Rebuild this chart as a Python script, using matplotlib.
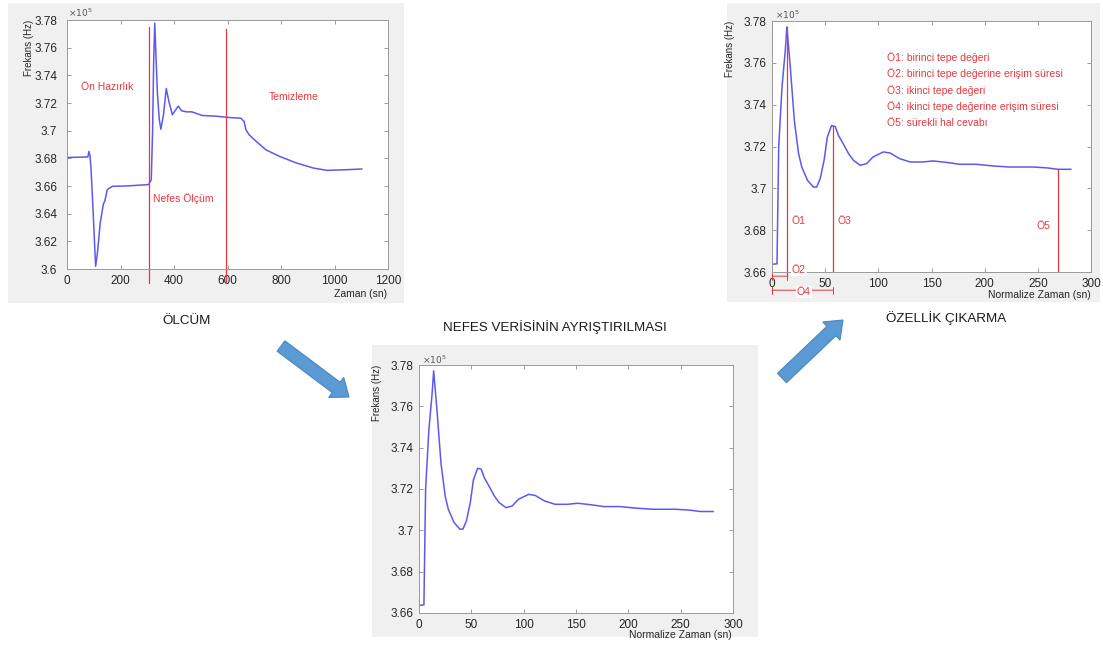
import matplotlib
matplotlib.use('Agg')
import matplotlib.pyplot as plt
from matplotlib.patches import Rectangle, FancyArrow
from matplotlib.transforms import IdentityTransform
from matplotlib.ticker import FixedLocator, FuncFormatter

plt.rcParams['font.family'] = ['Liberation Sans', 'DejaVu Sans']

# frekans degerleri x 1e5 Hz
# olcum (tum kayit)
t_olcum = [0, 40, 78, 82, 86, 90, 98, 107, 114, 124, 136, 141, 151, 170, 220, 305,
           315, 320, 324, 328, 333, 338, 345, 351, 361, 371, 381, 394, 406, 416, 429,
           448, 467, 505, 555, 606, 650, 662, 669, 681, 707, 744, 795, 858, 921, 972,
           1047, 1102]
f_olcum = [3.6806, 3.6808, 3.681, 3.685, 3.682, 3.672, 3.640, 3.602, 3.612, 3.633, 3.647,
           3.649, 3.6575, 3.6598, 3.660, 3.661, 3.6645, 3.700, 3.750, 3.7777, 3.752, 3.727,
           3.708, 3.701, 3.712, 3.7305, 3.721, 3.7115, 3.715, 3.7177, 3.7143, 3.7136,
           3.7136, 3.711, 3.7105, 3.7095, 3.709, 3.7067, 3.7006, 3.697, 3.6923, 3.6861,
           3.6814, 3.6766, 3.673, 3.6713, 3.6718, 3.6723]

# ayristirilmis nefes verisi (normalize zaman)
t_norm = [0, 4.7, 6.3, 9.4, 12.5, 14, 17.2, 21, 25, 28, 33.4, 39, 42, 45.3, 49, 52, 56,
          59.4, 62.5, 67, 72, 76.6, 83, 89, 95, 104.7, 111, 120, 130, 142, 151.5, 164,
          176.6, 192, 208, 223, 245, 258, 269, 281]
f_norm = [3.6637, 3.6639, 3.7198, 3.7484, 3.766, 3.7772, 3.758, 3.7325, 3.7166, 3.7102,
          3.7038, 3.7006, 3.7006, 3.7046, 3.7134, 3.7245, 3.730, 3.7296, 3.7253, 3.7213,
          3.7166, 3.7134, 3.711, 3.7118, 3.715, 3.7174, 3.7169, 3.7142, 3.7126, 3.7126,
          3.7131, 3.7124, 3.7115, 3.7115, 3.7107, 3.7102, 3.7102, 3.7098, 3.7091, 3.7091]

faz_sinir = [305, 594]
faz_ust = [3.7752, 3.7735]
faz_etiket = ['Ön Hazırlık', 'Nefes Ölçüm', 'Temizleme']
faz_etiket_x = [51, 320, 756]
faz_etiket_y = [3.7313, 3.6511, 3.7241]

ozellik_metin = ['Ö1: birinci tepe değeri', 'Ö2: birinci tepe değerine erişim süresi',
                 'Ö3: ikinci tepe değeri', 'Ö4: ikinci tepe değerine erişim süresi',
                 'Ö5: sürekli hal cevabı']
ozellik_y = [3.7625, 3.7547, 3.7469, 3.7391, 3.7313]
tepe1 = (14, 3.7772)
tepe2 = (57.8, 3.730)
kararli = (269, 3.7091)

y_tick_olcum = [3.6, 3.62, 3.64, 3.66, 3.68, 3.7, 3.72, 3.74, 3.76, 3.78]
x_tick_olcum = [0, 200, 400, 600, 800, 1000, 1200]
y_tick_norm = [3.66, 3.68, 3.7, 3.72, 3.74, 3.76, 3.78]
x_tick_norm = [0, 50, 100, 150, 200, 250, 300]

W, H = 1103, 646
BLUE = '#5a5af0'
RED = '#e8363f'
TXT = '#262626'

fig = plt.figure(figsize=(W / 100, H / 100), dpi=100)
fig.patch.set_facecolor('white')


def panel_bg(l, t, r, b):
    fig.patches.append(Rectangle((l / W, 1 - b / H), (r - l) / W, (b - t) / H,
                                 transform=fig.transFigure, facecolor='#f0f0f0',
                                 edgecolor='none', zorder=-10))


def matlab_axes(l, t, r, b, xticks, yticks, ypad=4):
    ax = fig.add_axes([l / W, 1 - b / H, (r - l) / W, (b - t) / H])
    ax.set_xlim(xticks[0], xticks[-1])
    ax.set_ylim(yticks[0], yticks[-1])
    ax.xaxis.set_major_locator(FixedLocator(xticks))
    ax.yaxis.set_major_locator(FixedLocator(yticks))
    fmt = FuncFormatter(lambda v, p: f'{v:g}')
    ax.xaxis.set_major_formatter(fmt)
    ax.yaxis.set_major_formatter(fmt)
    ax.tick_params(direction='in', top=True, right=True, length=3, width=0.6,
                   colors='#8a8a8a', labelcolor=TXT, labelsize=8.5)
    ax.tick_params(axis='x', pad=4.5)
    ax.tick_params(axis='y', pad=ypad)
    for s in ax.spines.values():
        s.set_color('#9a9a9a')
        s.set_linewidth(0.7)
    return ax


def px_text(x, y, s, **kw):
    fig.text(x / W, 1 - y / H, s, **kw)


def labels(ylab_x, top, xlab_r, xlab_y, exp_x, exp_y, xlab):
    px_text(ylab_x, top, 'Frekans (Hz)', rotation=90, ha='center', va='top',
            fontsize=7, color=TXT)
    px_text(xlab_r, xlab_y, xlab, ha='right', va='center', fontsize=7.5, color=TXT)
    px_text(exp_x, exp_y, r'$\times10^5$', ha='left', va='center', fontsize=6.5,
            color='#555555')


# --- panel 1: olcum ---
panel_bg(8, 3, 404, 303)
ax1 = matlab_axes(67, 20, 388, 269, x_tick_olcum, y_tick_olcum, ypad=7)
ax1.plot(t_olcum, f_olcum, color=BLUE, lw=1.1)
for xs, yt in zip(faz_sinir, faz_ust):
    ax1.plot([xs, xs], [yt, 3.5899], color=RED, lw=0.9, clip_on=False)
for s, x, y in zip(faz_etiket, faz_etiket_x, faz_etiket_y):
    ax1.text(x, y, s, color=RED, fontsize=7.5, ha='left', va='center')
labels(29, 20, 387, 294, 68, 13, 'Zaman (sn)')

# --- panel 2: ayristirma ---
panel_bg(372, 345, 758, 637)
ax2 = matlab_axes(419, 365, 733, 613, x_tick_norm, y_tick_norm)
ax2.plot(t_norm, f_norm, color=BLUE, lw=1.1)
labels(377, 365, 732, 635, 422, 360, 'Normalize Zaman (sn)')

# --- panel 3: ozellik cikarma ---
panel_bg(727, 3, 1100, 302)
ax3 = matlab_axes(772, 21, 1091, 272, x_tick_norm, y_tick_norm)
ax3.plot(t_norm, f_norm, color=BLUE, lw=1.1)
ax3.plot([tepe1[0]] * 2, [tepe1[1], 3.658], color=RED, lw=0.9, clip_on=False)
ax3.plot([tepe2[0]] * 2, [tepe2[1], 3.66], color=RED, lw=0.9)
ax3.plot([kararli[0]] * 2, [kararli[1], 3.66], color=RED, lw=0.9)
ax3.text(18.8, 3.6844, 'Ö1', color=RED, fontsize=7.5, ha='left', va='center')
ax3.text(61.6, 3.6844, 'Ö3', color=RED, fontsize=7.5, ha='left', va='center')
ax3.text(249, 3.6822, 'Ö5', color=RED, fontsize=7.5, ha='left', va='center')
for s, y in zip(ozellik_metin, ozellik_y):
    ax3.text(108, y, s, color=RED, fontsize=7.5, ha='left', va='center')
ax3.annotate('', xy=(tepe1[0], 3.658), xytext=(0, 3.658), annotation_clip=False,
             arrowprops=dict(arrowstyle='|-|,widthA=0.25,widthB=0.25',
                             color=RED, lw=0.7, shrinkA=0, shrinkB=0))
ax3.text(18.8, 3.6608, 'Ö2', color=RED, fontsize=7.5, ha='left', va='center', clip_on=False,
         bbox=dict(facecolor='white', edgecolor='none', pad=0.5))
ax3.annotate('', xy=(tepe2[0], 3.6513), xytext=(0, 3.6513), annotation_clip=False,
             arrowprops=dict(arrowstyle='|-|,widthA=0.25,widthB=0.25',
                             color=RED, lw=0.7, shrinkA=0, shrinkB=0))
ax3.text(23.5, 3.6505, 'Ö4', color=RED, fontsize=7.5, ha='left', va='center', clip_on=False,
         bbox=dict(facecolor='white', edgecolor='none', pad=0.5))
labels(730, 21, 1091, 295, 775, 15, 'Normalize Zaman (sn)')

# --- akis oklari ve basliklar ---
for (x0, y0), (x1, y1) in [((281, 346), (349, 397)), ((782, 378), (843, 320))]:
    fig.add_artist(FancyArrow(x0, H - y0, x1 - x0, y0 - y1, width=13, head_width=25,
                              head_length=16, length_includes_head=True,
                              transform=IdentityTransform(), facecolor='#5b9bd5',
                              edgecolor='#4a86c0', lw=0.8))

px_text(187, 321, 'ÖLCÜM', ha='center', va='center', fontsize=9.6, color='#1a1a1a')
px_text(555, 327, 'NEFES VERİSİNİN AYRIŞTIRILMASI', ha='center', va='center',
        fontsize=9.6, color='#1a1a1a')
px_text(946, 318, 'ÖZELLİK ÇIKARMA', ha='center', va='center', fontsize=9.6,
        color='#1a1a1a')

fig.savefig('out.png', dpi=100)
